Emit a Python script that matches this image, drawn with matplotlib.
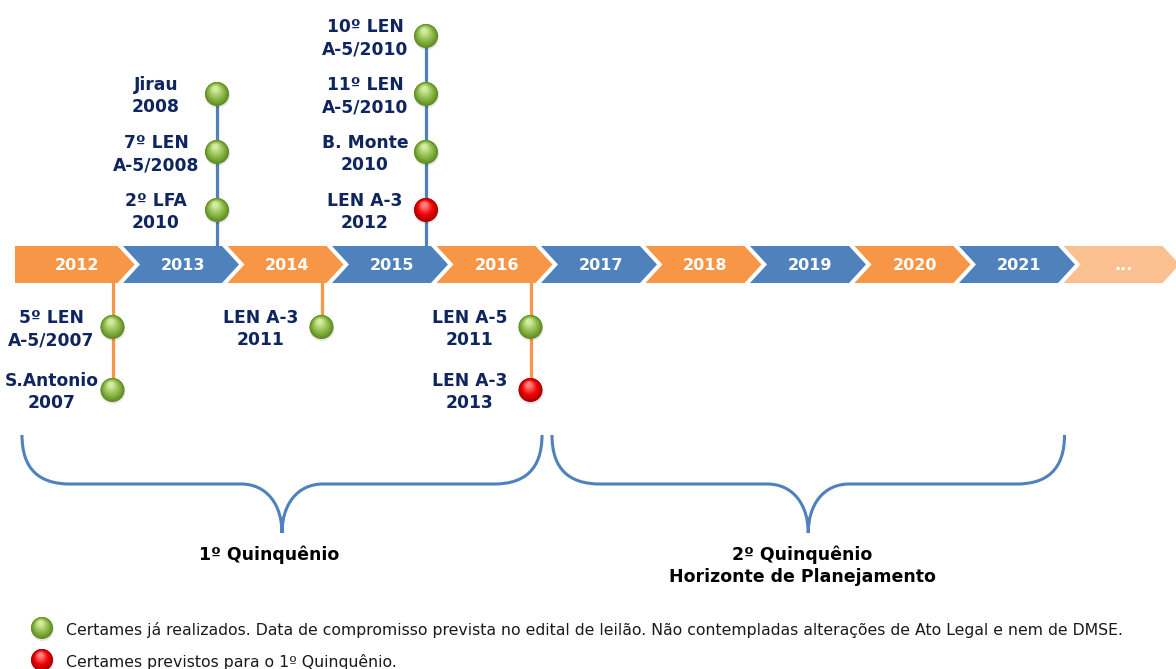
import matplotlib
matplotlib.use("Agg")
import matplotlib.pyplot as plt
from matplotlib.patches import Polygon, Circle, PathPatch
from matplotlib.path import Path
from matplotlib.colors import to_rgb
import numpy as np

# ---------------- data ----------------
years = ["2012", "2013", "2014", "2015", "2016", "2017", "2018", "2019", "2020", "2021", "..."]
year_colors = ["#F79646", "#4F81BD", "#F79646", "#4F81BD", "#F79646",
               "#4F81BD", "#F79646", "#4F81BD", "#F79646", "#4F81BD", "#FAC090"]

# events: (year, label, status, side, slot)
ev_year = ["2013", "2013", "2013",
           "2015", "2015", "2015", "2015",
           "2012", "2012", "2014", "2016", "2016"]
ev_label = ["2º LFA\n2010", "7º LEN\nA-5/2008", "Jirau\n2008",
            "LEN A-3\n2012", "B. Monte\n2010", "11º LEN\nA-5/2010", "10º LEN\nA-5/2010",
            "5º LEN\nA-5/2007", "S.Antonio\n2007", "LEN A-3\n2011",
            "LEN A-5\n2011", "LEN A-3\n2013"]
ev_status = ["done", "done", "done",
             "planned", "done", "done", "done",
             "done", "done", "done", "done", "planned"]
ev_side = ["up", "up", "up", "up", "up", "up", "up",
           "down", "down", "down", "down", "down"]
ev_slot = [0, 1, 2, 0, 1, 2, 3, 0, 1, 0, 0, 1]

periods = ["1º Quinquênio", "2º Quinquênio\nHorizonte de Planejamento"]
period_span = [(0, 4), (5, 9)]

legend_items = ["Certames já realizados. Data de compromisso prevista no edital de leilão. Não contempladas alterações de Ato Legal e nem de DMSE.",
                "Certames previstos para o 1º Quinquênio."]
legend_status = ["done", "planned"]

# ---------------- layout ----------------
W, H = 1176, 669
fig = plt.figure(figsize=(W / 100, H / 100), dpi=100)
ax = fig.add_axes([0, 0, 1, 1])
ax.set_xlim(0, W)
ax.set_ylim(H, 0)
ax.axis("off")

TOP, BOT = 246, 283
MID = (TOP + BOT) / 2
STEP = 104.5
BODY = 99
TIP = 17
NAVY = "#0F2560"

def left(i):
    return 15 if i == 0 else 18.5 + STEP * i

def right(i):
    return 18.5 + STEP * i + BODY

ball_cols = {"done": ("#5E8A22", "#8DBB48", "#D2EBA0"),
             "planned": ("#A80000", "#F20000", "#FF8080")}

def ball(x, y, status, r=12, z=6):
    dark, base, light = ball_cols[status]
    d, b, l = np.array(to_rgb(dark)), np.array(to_rgb(base)), np.array(to_rgb(light))
    ax.add_patch(Circle((x + 0.5, y + 1.5), r + 0.5, color="#00000018", zorder=z - 0.1, lw=0))
    n = 28
    for k in range(n):
        t = k / (n - 1)
        rr = r * (1 - 0.8 * t)
        cx = x - 0.15 * r * t
        cy = y - 0.45 * r * t
        if t < 0.45:
            c = d + (b - d) * (t / 0.45)
        else:
            c = b + (l - b) * ((t - 0.45) / 0.55)
        ax.add_patch(Circle((cx, cy), rr, color=tuple(c), zorder=z + k * 0.001, lw=0))

# chevrons
for i, (yr, col) in enumerate(zip(years, year_colors)):
    L = left(i)
    R = right(i)
    if i == 0:
        pts = [(L, TOP), (R, TOP), (R + TIP, MID), (R, BOT), (L, BOT)]
    else:
        pts = [(L, TOP), (R, TOP), (R + TIP, MID), (R, BOT), (L, BOT), (L + TIP, MID)]
    ax.add_patch(Polygon(pts, closed=True, facecolor=col, edgecolor="none", zorder=3))
    ax.text((L + R + TIP) / 2 + 2, MID + 1, yr, ha="center", va="center", color="white",
            fontsize=11.5, fontweight="bold", family="DejaVu Sans", zorder=4)

# events
line_col = {"up": "#4F81BD", "down": "#F79646"}
for side in ["up", "down"]:
    for yr in years:
        idx = [k for k in range(len(ev_year)) if ev_year[k] == yr and ev_side[k] == side]
        if not idx:
            continue
        i = years.index(yr)
        x = right(i) - 5
        ys = []
        for k in idx:
            if side == "up":
                y = TOP - (36 + 58 * ev_slot[k])
            else:
                y = BOT + (44 + 63 * ev_slot[k])
            ys.append(y)
            ball(x, y, ev_status[k])
            ax.text(x - 61, y + 2, ev_label[k], ha="center", va="center", color=NAVY,
                    fontsize=12.3, fontweight="bold", family="DejaVu Sans",
                    linespacing=1.3, zorder=5)
        if side == "up":
            ax.plot([x, x], [TOP + 4, min(ys)], color=line_col[side], lw=2.3, zorder=2)
        else:
            ax.plot([x, x], [BOT, max(ys)], color=line_col[side], lw=2.3, zorder=2)

# braces
def brace(x0, x1, ytop=435, yh=484, ytip=533):
    xm = (x0 + x1) / 2
    verts = [(x0, ytop), (x0, ytop + 35), (x0 + 18, yh), (x0 + 48, yh),
             (xm - 41, yh),
             (xm - 15, yh), (xm, yh + 21), (xm, ytip),
             (xm, yh + 21), (xm + 15, yh), (xm + 41, yh),
             (x1 - 48, yh),
             (x1 - 18, yh), (x1, ytop + 35), (x1, ytop)]
    codes = [Path.MOVETO, Path.CURVE4, Path.CURVE4, Path.CURVE4,
             Path.LINETO,
             Path.CURVE4, Path.CURVE4, Path.CURVE4,
             Path.CURVE4, Path.CURVE4, Path.CURVE4,
             Path.LINETO,
             Path.CURVE4, Path.CURVE4, Path.CURVE4]
    ax.add_patch(PathPatch(Path(verts, codes), facecolor="none", edgecolor="#4F81BD",
                           lw=2.2, zorder=2))
    return xm

label_dx = [-13, -6]
for j, ((a, b), txt) in enumerate(zip(period_span, periods)):
    x0 = left(a) + (7 if a == 0 else 11)
    x1 = left(b + 1) + 1
    xm = brace(x0, x1)
    nlines = txt.count("\n") + 1
    ax.text(xm + label_dx[j], 555 + 11 * (nlines - 1), txt, ha="center", va="center",
            color="black", fontsize=12.5, fontweight="bold", family="DejaVu Sans",
            linespacing=1.3, zorder=5)

# legend
for j, (txt, st) in enumerate(zip(legend_items, legend_status)):
    y = 628 + 32 * j
    ball(42, y, st, r=11)
    ax.text(66, y + 2, txt, ha="left", va="center", color="#1A1A1A", fontsize=11.3,
            family="DejaVu Sans", zorder=5)

fig.savefig("out.png", dpi=100, facecolor="white")
